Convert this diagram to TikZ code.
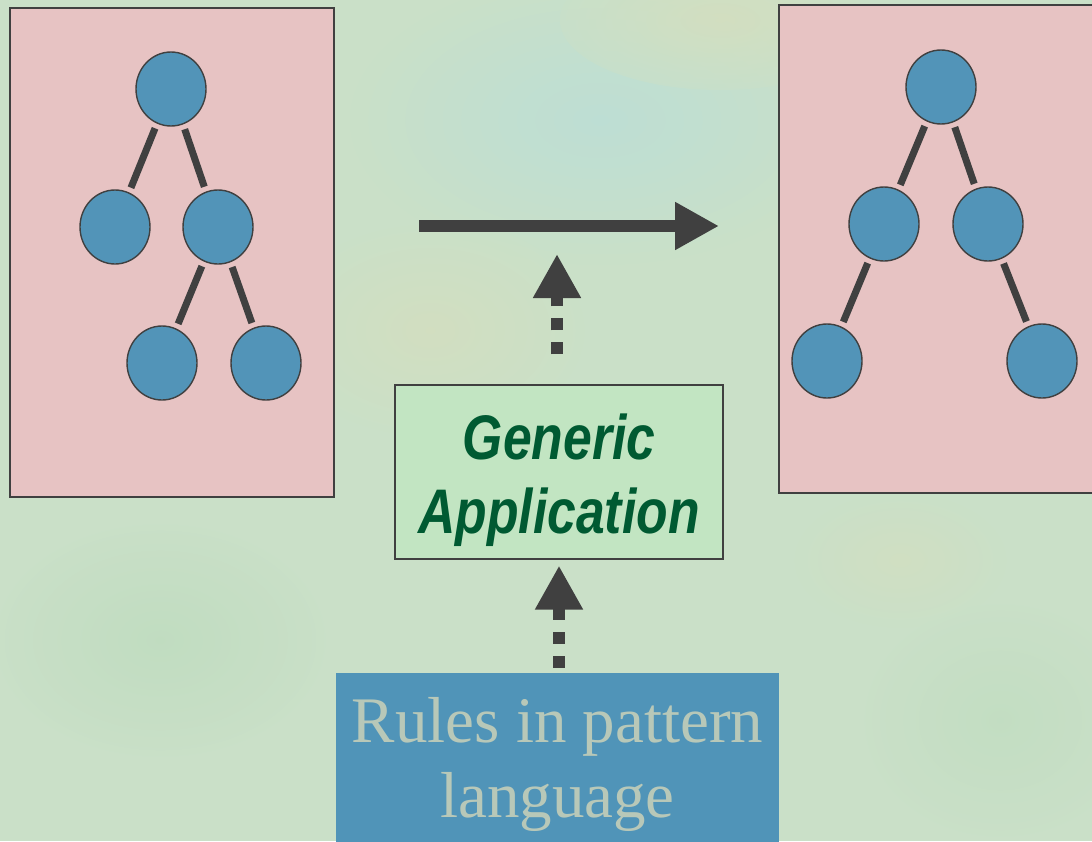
\documentclass[tikz,border=0pt]{standalone}
\usepackage{fontspec}
\usetikzlibrary{arrows.meta,shapes.geometric}
\newfontfamily\labelsans[FakeStretch=0.82]{Liberation Sans}
\newfontfamily\rulesserif{Liberation Serif}
\definecolor{bgbase}{RGB}{202,224,200}
\definecolor{bgblue}{RGB}{188,222,214}
\definecolor{bgyellow}{RGB}{218,222,186}
\definecolor{bggreen}{RGB}{184,218,186}
\definecolor{treepink}{RGB}{231,195,195}
\definecolor{nodeblue}{RGB}{82,148,184}
\definecolor{edgegray}{RGB}{64,64,64}
\definecolor{genfill}{RGB}{194,229,194}
\definecolor{gentext}{RGB}{0,90,50}
\definecolor{rulesfill}{RGB}{80,148,184}
\definecolor{rulestext}{RGB}{184,200,184}
\tikzset{
  treebox/.style={draw=edgegray, line width=1.2pt, fill=treepink, inner sep=0pt},
  tnode/.style={ellipse, draw=edgegray, line width=1.4pt, fill=nodeblue,
    minimum width=70pt, minimum height=74pt, inner sep=0pt},
  tedge/.style={draw=edgegray, line width=7pt, shorten <=5pt, shorten >=5pt},
  mainarrow/.style={draw=edgegray, line width=12pt,
    -{Triangle[length=44pt,width=45pt]}},
  dotarrow/.style={draw=edgegray, line width=12pt, dash pattern=on 12pt off 12pt,
    -{Triangle[length=44pt,width=45pt]}},
  genbox/.style={draw=edgegray, line width=1.2pt, fill=genfill, align=center,
    inner sep=0pt, minimum width=328pt, text=gentext,
    text height=148pt, text depth=26pt,
    font=\labelsans\bfseries\itshape\fontsize{63}{74}\selectfont},
  rulesbox/.style={fill=rulesfill, align=center, inner sep=0pt,
    minimum width=443pt, text=rulestext,
    text height=144pt, text depth=36pt,
    font=\rulesserif\fontsize{65}{75}\selectfont},
}
\begin{document}
\begin{tikzpicture}[x=1pt,y=-1pt]
  % page and background wash
  \useasboundingbox (0,0) rectangle (1092,841);
  \begin{scope}
    \clip (0,0) rectangle (1092,841);
    \fill[bgbase] (0,0) rectangle (1092,841);
    \shade[inner color=bgblue, outer color=bgbase, opacity=0.9] (600,120) ellipse (260 and 150);
    \shade[inner color=bgyellow, outer color=bgbase, opacity=0.6] (720,20) ellipse (160 and 70);
    \shade[inner color=bgyellow, outer color=bgbase, opacity=0.5] (430,330) ellipse (160 and 110);
    \shade[inner color=bggreen, outer color=bgbase, opacity=0.5] (160,640) ellipse (170 and 120);
    \shade[inner color=bggreen, outer color=bgbase, opacity=0.4] (1000,720) ellipse (140 and 120);
    \shade[inner color=bgyellow, outer color=bgbase, opacity=0.4] (900,560) ellipse (110 and 70);

    % left tree
    \node[treebox, minimum width=324pt, minimum height=489pt] (lbox) at (172,252.5) {};
    \node[tnode] (la) at (171,89) {};
    \node[tnode] (lb) at (115,227) {};
    \node[tnode] (lc) at (218,227) {};
    \node[tnode] (ld) at (162,363) {};
    \node[tnode] (le) at (266,363) {};
    \draw[tedge] (la) -- (lb);
    \draw[tedge] (la) -- (lc);
    \draw[tedge] (lc) -- (ld);
    \draw[tedge] (lc) -- (le);

    % right tree
    \node[treebox, minimum width=320pt, minimum height=488pt] (rbox) at (939,249) {};
    \node[tnode] (ra) at (941,87) {};
    \node[tnode] (rb) at (884,224) {};
    \node[tnode] (rc) at (988,224) {};
    \node[tnode] (rd) at (827,361) {};
    \node[tnode] (re) at (1042,361) {};
    \draw[tedge] (ra) -- (rb);
    \draw[tedge] (ra) -- (rc);
    \draw[tedge] (rb) -- (rd);
    \draw[tedge] (rc) -- (re);

    % transformation arrow
    \coordinate (tfrom) at (419,226);
    \coordinate (tto) at (719,226);
    \draw[mainarrow] (tfrom) -- (tto);
    \coordinate (tmid) at (557,254);

    % application box and rules box
    \node[genbox] (gen) at (559,472) {Generic\\Application};
    \node[rulesbox] (rules) at (557.5,763) {Rules in pattern\\language};

    % dotted arrows
    \draw[dotarrow, shorten <=30pt] (gen.north -| tmid) -- (tmid);
    \draw[dotarrow, shorten <=5pt, shorten >=6pt] (rules.north -| gen.south) -- (gen.south);
  \end{scope}
\end{tikzpicture}
\end{document}
